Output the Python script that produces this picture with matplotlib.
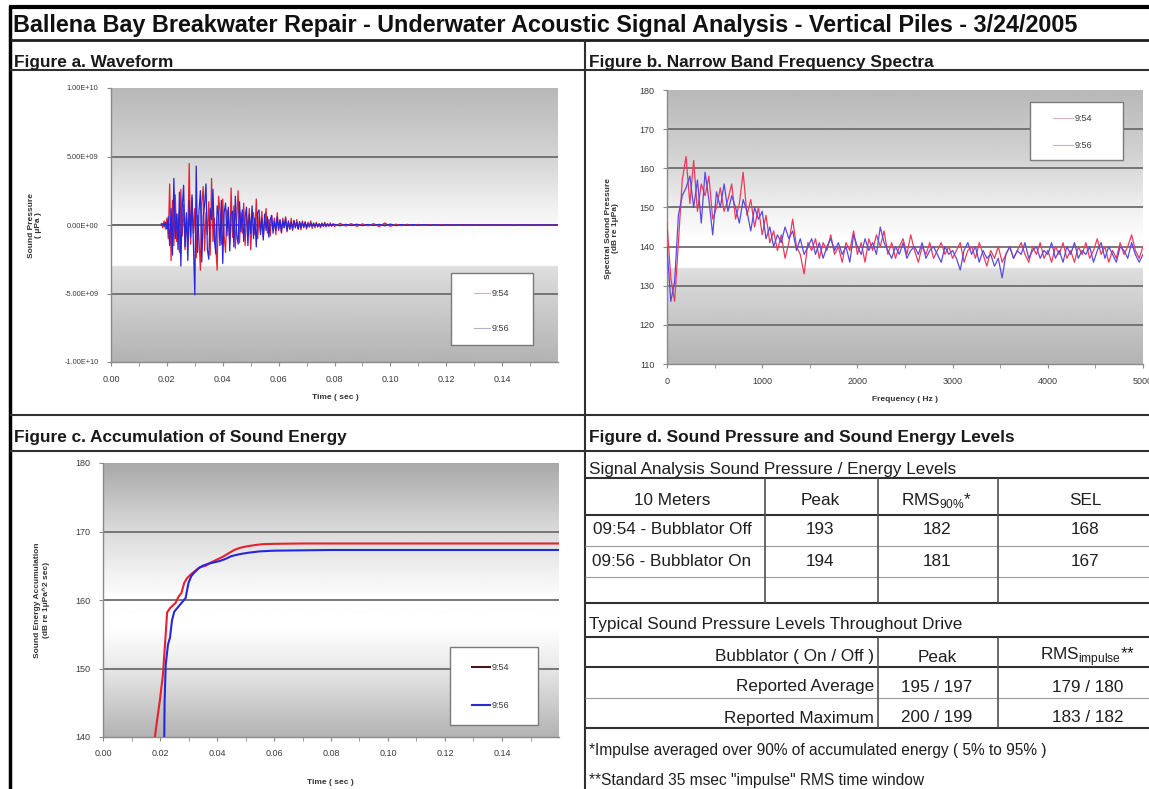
import numpy as np
import matplotlib
matplotlib.use("Agg")
import matplotlib.pyplot as plt
from matplotlib.lines import Line2D
from matplotlib.patches import Rectangle

plt.rcParams['font.family'] = ['Liberation Sans', 'DejaVu Sans']

# ---------------- DATA ----------------
title = "Ballena Bay Breakwater Repair - Underwater Acoustic Signal Analysis - Vertical Piles - 3/24/2005"
series_labels = ["9:54", "9:56"]

# Figure a: waveform (units of 1E+09 uPa)
wave_dense_start, wave_dense_step = 0.018, 0.0005
wave_tail_start, wave_tail_end = 0.080, 0.160
wave_954_dense = [0.1, -0.2, 0.3, -0.3, 0.5, -1.0, 3.0, -2.6, 1.8, -1.5,
                  2.2, -1.2, 0.8, -2.0, 2.6, -0.8, 1.5, -1.8, 0.6, -0.9,
                  4.5, -1.4, 2.0, -0.6, 1.2, -2.4, 0.7, -1.0, -3.3, 1.6,
                  2.8, -1.9, 0.9, -0.7, 1.7, -2.2, 3.4, -1.2, 0.5, -1.6,
                  -3.3, 2.1, 1.0, -1.4, 1.9, -0.8, -2.0, 1.1, 0.6, -1.2,
                  2.7, -0.9, 1.4, -1.7, 0.4, 2.5, -1.3, 0.9, -0.6, 1.6,
                  -1.5, 0.7, -0.4, 1.2, -1.8, 0.5, 0.9, -0.7, 1.9, -1.0,
                  0.6, -0.5, 1.0, -0.9, 0.3, 1.2, -0.6, 0.4, -0.8, 0.7,
                  -0.3, 0.5, -0.7, 0.9, -0.4, 0.3, -0.6, 0.5, -0.2, 0.6,
                  -0.5, 0.2, -0.3, 0.5, -0.4, 0.3, -0.2, 0.4, -0.3, 0.2,
                  -0.35, 0.3, -0.2, 0.25, -0.3, 0.2, -0.1, 0.3, -0.25, 0.15,
                  -0.2, 0.2, -0.15, 0.1, -0.2, 0.15, -0.1, 0.2, -0.15, 0.1,
                  -0.1, 0.15, -0.1, 0.1]
wave_954_tail = [-0.1, 0.12, -0.08, 0.1, -0.1, 0.08, -0.06, 0.1, -0.12, 0.15,
                 -0.1, 0.06, -0.05, 0.05, -0.04, 0.04, -0.03, 0.03, -0.03, 0.03,
                 -0.02, 0.02, -0.02, 0.03, -0.02, 0.02, -0.02, 0.02, -0.02, 0.02,
                 -0.01, 0.02, -0.02, 0.01, -0.01, 0.02, -0.01, 0.01, -0.01, 0.01, 0.0]
wave_956_dense = [0.0, 0.1, -0.1, 0.2, -0.3, 0.6, -1.5, 1.2, -2.2, 3.4,
                  -1.0, 0.8, -1.8, 2.4, -3.0, 1.3, 2.9, -1.6, 0.9, -2.6,
                  1.8, -0.9, 2.2, -1.4, -5.1, 4.3, -2.0, 1.0, 2.5, -2.7,
                  0.6, 1.5, 3.0, -1.8, -2.5, 1.2, 0.4, 2.6, -1.1, -2.1,
                  1.4, 0.7, -1.5, 1.8, -2.8, 0.9, 1.6, -0.8, 1.3, -1.9,
                  0.8, 1.0, -1.6, 2.1, -0.7, -1.4, 1.7, -0.5, 1.1, -1.2,
                  0.6, 1.3, -1.5, 0.8, -0.6, 1.4, -1.0, 0.5, -1.6, 0.9,
                  1.1, -0.7, 0.5, -1.1, 0.8, -0.4, 0.6, -0.9, 0.4, 0.7,
                  -0.6, 0.3, -0.4, 0.6, -0.3, 0.4, -0.5, 0.3, -0.2, 0.5,
                  -0.4, 0.3, -0.3, 0.2, -0.3, 0.35, -0.2, 0.2, -0.3, 0.25,
                  -0.2, 0.2, -0.15, 0.2, -0.2, 0.1, -0.15, 0.15, -0.1, 0.12,
                  -0.1, 0.1, -0.12, 0.08, -0.1, 0.1, -0.08, 0.1, -0.06, 0.08,
                  -0.06, 0.05, -0.06, 0.05]
wave_956_tail = [0.05, -0.06, 0.05, -0.04, 0.06, -0.05, 0.04, -0.04, 0.05, -0.06,
                 0.07, -0.05, 0.03, -0.03, 0.03, -0.02, 0.02, -0.02, 0.02, -0.02,
                 0.01, -0.01, 0.01, -0.01, 0.01, -0.01, 0.01, -0.01, 0.01, -0.01,
                 0.0, 0.01, -0.01, 0.0, 0.01, -0.01, 0.0, 0.01, 0.0, 0.0, 0.0]
wave_yticks = [-10, -5, 0, 5, 10]
wave_yticklabels = ["-1.00E+10", "-5.00E+09", "0.00E+00", "5.00E+09", "1.00E+10"]
time_ticks = [0.00, 0.02, 0.04, 0.06, 0.08, 0.10, 0.12, 0.14]
time_ticklabels = ["0.00", "0.02", "0.04", "0.06", "0.08", "0.10", "0.12", "0.14"]

# Figure b: narrow band spectra (dB re 1uPa), 0..5000 Hz evenly spaced
spec_954 = [146, 132, 126, 141, 157, 163, 151, 162, 149, 156, 153, 158, 147, 150, 155, 149,
            152, 156, 147, 151, 159, 148, 152, 145, 150, 143, 148, 141, 144, 139, 143, 137,
            141, 147, 140, 138, 133, 141, 139, 142, 137, 141, 139, 143, 138, 140, 136, 141,
            139, 144, 138, 141, 136, 142, 139, 143, 140, 144, 138, 141, 137, 140, 142, 138,
            143, 139, 136, 140, 138, 141, 137, 139, 141, 138, 140, 137, 139, 141, 136, 139,
            140, 137, 141, 138, 135, 139, 137, 140, 136, 138, 140, 137, 139, 141, 138, 136,
            140, 138, 141, 137, 139, 136, 140, 138, 141, 137, 139, 136, 140, 138, 141, 137,
            139, 142, 138, 140, 136, 139, 137, 141, 138, 140, 143, 139, 137, 140]
spec_956 = [140, 126, 131, 148, 153, 155, 158, 150, 157, 146, 159, 152, 143, 154, 150, 156,
            149, 153, 150, 146, 152, 149, 144, 150, 147, 149, 142, 145, 140, 143, 141, 145,
            142, 144, 139, 142, 138, 140, 142, 138, 141, 137, 140, 142, 139, 141, 138, 140,
            136, 143, 140, 138, 142, 139, 141, 138, 145, 141, 139, 137, 140, 138, 141, 137,
            139, 140, 138, 141, 137, 139, 140, 138, 136, 140, 138, 139, 137, 134, 139, 141,
            138, 140, 136, 139, 137, 138, 135, 137, 132, 138, 140, 137, 139, 138, 141, 137,
            139, 140, 137, 139, 138, 141, 137, 139, 136, 140, 138, 141, 137, 139, 138, 140,
            136, 139, 141, 137, 140, 138, 136, 140, 139, 137, 141, 138, 136, 138]
freq_max = 5000
freq_ticks = [0, 1000, 2000, 3000, 4000, 5000]
freq_ticklabels = ["0", "1000", "2000", "3000", "4000", "5000"]
spec_yticks = [110, 120, 130, 140, 150, 160, 170, 180]

# Figure c: accumulation of sound energy (dB re 1uPa^2 sec)
acc_954_t = [0.0170, 0.0182, 0.0190, 0.0200, 0.0210, 0.0220, 0.0225, 0.0235, 0.0245, 0.0255,
             0.0265, 0.0275, 0.0285, 0.0295, 0.0310, 0.0325, 0.0340, 0.0360, 0.0380, 0.0400,
             0.0420, 0.0440, 0.0460, 0.0480, 0.0500, 0.0530, 0.0560, 0.0600, 0.0700, 0.0800,
             0.1000, 0.1200, 0.1400, 0.1600]
acc_954_v = [135.0, 140.0, 142.5, 145.5, 149.0, 155.0, 158.2, 158.8, 159.2, 159.6,
             160.5, 161.0, 162.5, 163.2, 163.8, 164.3, 164.8, 165.0, 165.5, 165.9,
             166.3, 166.8, 167.3, 167.6, 167.8, 168.0, 168.15, 168.2, 168.25, 168.25,
             168.25, 168.25, 168.25, 168.25]
acc_956_t = [0.0214, 0.0216, 0.0220, 0.0228, 0.0235, 0.0242, 0.0250, 0.0260, 0.0270, 0.0280,
             0.0290, 0.0300, 0.0310, 0.0320, 0.0335, 0.0350, 0.0370, 0.0390, 0.0410, 0.0430,
             0.0450, 0.0480, 0.0510, 0.0550, 0.0600, 0.0700, 0.0800, 0.1000, 0.1200, 0.1400,
             0.1600]
acc_956_v = [135.0, 145.0, 150.5, 153.5, 154.5, 157.0, 158.3, 158.8, 159.3, 159.8,
             160.3, 162.5, 163.5, 164.0, 164.6, 165.0, 165.3, 165.5, 165.7, 166.0,
             166.4, 166.7, 166.9, 167.1, 167.2, 167.25, 167.3, 167.3, 167.3, 167.3,
             167.3]
acc_yticks = [140, 150, 160, 170, 180]

# Figure d: tables
t1_title = "Signal Analysis Sound Pressure / Energy Levels"
t1_header = ["10 Meters", "Peak", "RMS$_{\\mathregular{90\\%}}$*", "SEL"]
t1_rows = [["09:54 - Bubblator Off", "193", "182", "168"],
           ["09:56 - Bubblator On", "194", "181", "167"]]
t2_title = "Typical Sound Pressure Levels Throughout Drive"
t2_header = ["Bubblator ( On / Off )", "Peak", "RMS$_{\\mathregular{impulse}}$**"]
t2_rows = [["Reported Average", "195 / 197", "179 / 180"],
           ["Reported Maximum", "200 / 199", "183 / 182"]]
footnotes = ["*Impulse averaged over 90% of accumulated energy ( 5% to 95% )",
             "**Standard 35 msec \"impulse\" RMS time window"]

# ---------------- LAYOUT ----------------
W, H = 1149, 789
fig = plt.figure(figsize=(W / 100, H / 100), dpi=100)
fig.patch.set_facecolor('white')
RED, BLUE = '#e8202c', '#2626dc'


def add_ax(l, t, r, b):
    return fig.add_axes([l / W, 1 - b / H, (r - l) / W, (b - t) / H])


def grad_axes(l, t, r, b, stops):
    bg = add_ax(l, t, r, b)
    bg.set_zorder(0)
    bg.axis('off')
    ys = np.linspace(0, 1, 600)
    col = np.interp(ys, [s[0] for s in stops], [s[1] for s in stops])
    bg.imshow(np.repeat(col[:, None], 2, 1), cmap='gray', vmin=0, vmax=1,
              aspect='auto', interpolation='bilinear', extent=[0, 1, 0, 1])
    ax = add_ax(l, t, r, b)
    ax.set_zorder(1)
    ax.patch.set_alpha(0)
    for s in ['top', 'right']:
        ax.spines[s].set_visible(False)
    for s in ['left', 'bottom']:
        ax.spines[s].set_color('#8a8a8a')
        ax.spines[s].set_linewidth(1.0)
    ax.tick_params(which='both', direction='out', length=3, color='#8a8a8a',
                   labelcolor='#3a3a3a', labelsize=6.5, pad=6)
    return ax


def hgrid(ax, vals, lo, hi):
    for v in vals:
        if lo < v < hi:
            ax.axhline(v, color='#6e6e6e', lw=1.3, zorder=1)


stops_ab = [(0, 0.72), (0.25, 0.83), (0.45, 0.95), (0.55, 1.0), (0.648, 1.0),
            (0.652, 0.87), (1.0, 0.70)]
stops_c = [(0, 0.66), (0.25, 0.86), (0.48, 0.99), (0.6, 1.0), (0.72, 0.93), (1.0, 0.70)]

# ---- Figure a
axa = grad_axes(111, 88, 558, 362, stops_ab)
hgrid(axa, wave_yticks, -10, 10)
axa.axhline(0, color='#6e6e6e', lw=1.3, zorder=1)
t_dense = wave_dense_start + wave_dense_step * np.arange(len(wave_954_dense))
t_tail = np.linspace(wave_tail_start, wave_tail_end, len(wave_954_tail))
axa.plot(np.concatenate([t_dense, t_tail]), wave_954_dense + wave_954_tail, color=RED, lw=0.9, zorder=3)
t_dense2 = wave_dense_start + wave_dense_step * np.arange(len(wave_956_dense))
t_tail2 = np.linspace(wave_tail_start, wave_tail_end, len(wave_956_tail))
axa.plot(np.concatenate([t_dense2, t_tail2]), wave_956_dense + wave_956_tail, color=BLUE, lw=0.9, zorder=3)
axa.set_xlim(0, 0.16)
axa.set_ylim(-10, 10)
axa.set_yticks(wave_yticks)
axa.set_yticklabels(wave_yticklabels, fontsize=5.3)
axa.set_xticks(time_ticks)
axa.set_xticklabels(time_ticklabels)
axa.set_xticks(np.arange(0.01, 0.161, 0.02), minor=True)

# ---- Figure b
axb = grad_axes(667, 90, 1143, 364, stops_ab)
hgrid(axb, spec_yticks, 110, 180)
axb.plot(np.linspace(0, freq_max, len(spec_954)), spec_954, color='#ee3a5a', lw=0.9, zorder=3)
axb.plot(np.linspace(0, freq_max, len(spec_956)), spec_956, color='#5a4ae0', lw=0.9, zorder=3)
axb.set_xlim(0, freq_max)
axb.set_ylim(110, 180)
axb.set_yticks(spec_yticks)
axb.set_xticks(freq_ticks)
axb.set_xticklabels(freq_ticklabels)
axb.set_xticks(np.arange(500, 5000, 1000), minor=True)

# ---- Figure c
axc = grad_axes(103, 463, 559, 737, stops_c)
hgrid(axc, acc_yticks, 140, 180)
axc.plot(acc_954_t, acc_954_v, color=RED, lw=1.5, zorder=3)
axc.plot(acc_956_t, acc_956_v, color=BLUE, lw=1.5, zorder=3)
axc.set_xlim(0, 0.16)
axc.set_ylim(140, 180)
axc.set_yticks(acc_yticks)
axc.set_xticks(time_ticks)
axc.set_xticklabels(time_ticklabels)
axc.set_xticks(np.arange(0.01, 0.161, 0.02), minor=True)

# ---------------- OVERLAY (frame, headings, table, legends) ----------------
ov = fig.add_axes([0, 0, 1, 1])
ov.set_xlim(0, W)
ov.set_ylim(H, 0)
ov.axis('off')
ov.set_zorder(5)
R = fig.canvas.get_renderer()


def fit(t, width):
    bb = t.get_window_extent(renderer=R)
    t.set_fontsize(t.get_fontsize() * width / bb.width)
    return t.get_fontsize()


def hl(y, x0, x1, lw=1.3, c='#303030'):
    ov.add_line(Line2D([x0, x1], [y, y], color=c, lw=lw, solid_capstyle='butt'))


def vl(x, y0, y1, lw=1.3, c='#303030'):
    ov.add_line(Line2D([x, x], [y0, y1], color=c, lw=lw, solid_capstyle='butt'))


# frame
hl(7, 9, W, lw=3.0, c='black')
vl(10, 6, H, lw=2.5, c='black')
hl(40, 10, W, lw=2.0, c='#202020')
hl(70, 10, W, lw=1.5)
vl(585, 40, H, lw=1.5)
hl(415, 10, W, lw=1.5)
hl(451, 10, W, lw=1.5)

tt = ov.text(13, 25, title, fontsize=14, fontweight='bold', va='center', ha='left', color='#111111')
fit(tt, 1068)

hdr = ov.text(589, 437, "Figure d. Sound Pressure and Sound Energy Levels", fontsize=10,
              fontweight='bold', va='center', ha='left', color='#1a1a1a')
hs = fit(hdr, 428)
for x, y, s in [(14, 62, "Figure a. Waveform"), (589, 62, "Figure b. Narrow Band Frequency Spectra"),
                (14, 437, "Figure c. Accumulation of Sound Energy")]:
    ov.text(x, y, s, fontsize=hs, fontweight='bold', va='center', ha='left', color='#1a1a1a')

# axis titles
lab_kw = dict(fontsize=6, fontweight='bold', color='#333333', ha='center', va='center')
ov.text(35, 225, "Sound Pressure\n( \u03bcPa )", rotation=90, linespacing=1.1, **lab_kw)
ov.text(335, 397, "Time ( sec )", **lab_kw)
ov.text(612, 228, "Spectral Sound Pressure\n(dB re 1\u03bcPa)", rotation=90, linespacing=1.1, **lab_kw)
ov.text(905, 399, "Frequency ( Hz )", **lab_kw)
ov.text(42, 600, "Sound Energy Accumulation\n(dB re 1\u03bcPa^2 sec)", rotation=90, linespacing=1.1, **lab_kw)
ov.text(330, 782, "Time ( sec )", **lab_kw)


# legends
def legend_box(x0, y0, x1, y1, entries, lx0, lx1, tx):
    ov.add_patch(Rectangle((x0, y0), x1 - x0, y1 - y0, facecolor='white', edgecolor='#7a7a7a', lw=1.0))
    for y, c, lab, lw in entries:
        ov.add_line(Line2D([lx0, lx1], [y, y], color=c, lw=lw))
        ov.text(tx, y, lab, fontsize=6.5, va='center', ha='left', color='#3a3a3a')


legend_box(451, 273, 533, 345, [(293, '#d8b0b0', series_labels[0], 0.8),
                                (328, '#b0b0d0', series_labels[1], 0.8)], 474, 490, 492)
legend_box(1030, 102, 1123, 160, [(118, '#d8b0b8', series_labels[0], 0.8),
                                  (145, '#c0b0d8', series_labels[1], 0.8)], 1053, 1073, 1075)
legend_box(450, 647, 538, 725, [(667, '#401818', series_labels[0], 1.5),
                                (705, '#2a2ad0', series_labels[1], 1.5)], 472, 490, 492)

# table
tk = dict(va='center', color='#1e1e1e')
st = ov.text(589, 469, t1_title, fontsize=10, ha='left', **tk)
ts = fit(st, 366)
hl(478, 585, W, lw=1.5)
cols1 = [672, 820, 937, 1085]
for cx, s in zip(cols1, t1_header):
    ov.text(cx, 500, s, fontsize=ts, ha='center', **tk)
hl(515, 585, W, lw=1.5)
for ry, row in zip([530, 562], t1_rows):
    for cx, s in zip(cols1, row):
        ov.text(cx, ry, s, fontsize=ts, ha='center', **tk)
hl(546, 585, W, lw=0.8, c='#9a9a9a')
hl(577, 585, W, lw=0.8, c='#9a9a9a')
hl(603, 585, W, lw=1.5)
for x in [765, 878, 998]:
    vl(x, 478, 603, lw=1.2, c='#505050')

ov.text(589, 625, t2_title, fontsize=ts, ha='left', **tk)
hl(637, 585, W, lw=1.5)
ov.text(874, 657, t2_header[0], fontsize=ts, ha='right', **tk)
ov.text(937, 657, t2_header[1], fontsize=ts, ha='center', **tk)
ov.text(1088, 657, t2_header[2], fontsize=ts, ha='center', **tk)
hl(667, 585, W, lw=1.5)
for ry, row in zip([687, 718], t2_rows):
    ov.text(874, ry, row[0], fontsize=ts, ha='right', **tk)
    ov.text(937, ry, row[1], fontsize=ts, ha='center', **tk)
    ov.text(1088, ry, row[2], fontsize=ts, ha='center', **tk)
hl(698, 585, W, lw=0.8, c='#9a9a9a')
hl(728, 585, W, lw=1.5)
for x in [878, 998]:
    vl(x, 637, 728, lw=1.2, c='#505050')

fn = ov.text(589, 750, footnotes[0], fontsize=ts, ha='left', **tk)
fs = fit(fn, 462)
ov.text(589, 780, footnotes[1], fontsize=fs, ha='left', **tk)

fig.savefig("out.png", dpi=100, facecolor='white')
